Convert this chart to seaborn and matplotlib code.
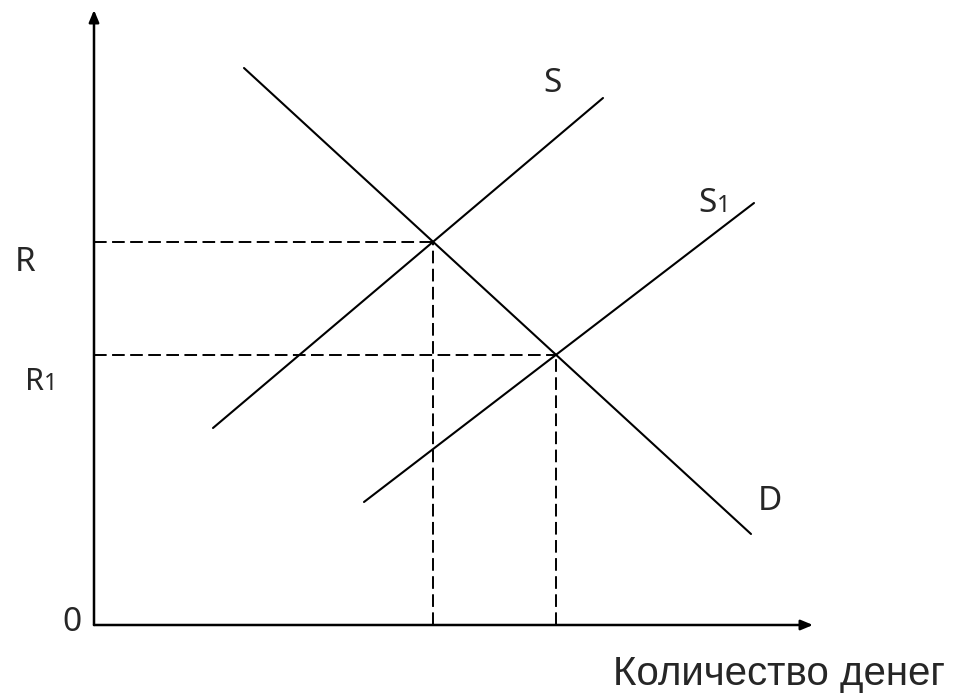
import numpy as np
import pandas as pd
import matplotlib
matplotlib.use("Agg")
from matplotlib import pyplot as plt
import seaborn as sns

sns.set_theme(style="white")
plt.rcParams["font.family"] = ["Noto Sans", "DejaVu Sans"]

# curve end points (x, y) in chart units, origin at the axes corner
d_x = [15.0, 65.7]
d_y = [55.7, 9.1]
s_x = [11.9, 50.9]
s_y = [19.7, 52.7]
s1_x = [27.0, 66.0]
s1_y = [12.3, 42.2]
axis_x_max = 71.9
axis_y_max = 61.5

curves = pd.concat([
    pd.DataFrame({"q": d_x, "r": d_y, "curve": "D"}),
    pd.DataFrame({"q": s_x, "r": s_y, "curve": "S"}),
    pd.DataFrame({"q": s1_x, "r": s1_y, "curve": "S1"}),
])


def line_coef(xs, ys):
    k = (ys[1] - ys[0]) / (xs[1] - xs[0])
    return k, ys[0] - k * xs[0]


def intersect(a, b):
    k1, b1 = a
    k2, b2 = b
    x = (b2 - b1) / (k1 - k2)
    return x, k1 * x + b1


dc = line_coef(d_x, d_y)
e = intersect(dc, line_coef(s_x, s_y))
e1 = intersect(dc, line_coef(s1_x, s1_y))

fig = plt.figure(figsize=(9.63, 6.96), dpi=100)
ax = fig.add_axes([0, 0, 1, 1])
ax.set_xlim(-9.4, 86.9)
ax.set_ylim(-7.1, 62.5)
ax.set_axis_off()

sns.lineplot(data=curves, x="q", y="r", units="curve", estimator=None,
             color="black", lw=1.5, ax=ax, legend=False)

dash = dict(color="black", lw=1.4, dashes=(6.5, 2.8))
for x, y in [e, e1]:
    ax.plot([0, x], [y, y], **dash)
    ax.plot([x, x], [0, y], **dash)

arrow = dict(arrowstyle="-|>,head_length=0.6,head_width=0.25", color="black",
             lw=1.8, shrinkA=0, shrinkB=0)
ax.annotate("", xy=(axis_x_max, 0), xytext=(0, 0), arrowprops=arrow)
ax.annotate("", xy=(0, axis_y_max), xytext=(0, 0), arrowprops=arrow)

fs = 24
ax.text(44.9, 53.3, "S", fontsize=fs, va="baseline")
ax.text(60.4, 41.3, "S", fontsize=fs, va="baseline")
ax.text(62.3, 41.3, "1", fontsize=17, va="baseline")
ax.text(-7.9, 35.4, "R", fontsize=fs, va="baseline")
ax.text(-6.9, 23.5, "R", fontsize=22, va="baseline")
ax.text(-5.0, 23.5, "1", fontsize=17, va="baseline")
ax.text(66.4, 11.5, "D", fontsize=fs, va="baseline")
ax.text(-3.2, -0.6, "0", fontsize=fs, va="baseline")
ax.text(85.1, -6.0, "Количество денег", fontsize=29, va="baseline", ha="right",
        family=["Liberation Sans", "DejaVu Sans"])

fig.savefig("out.png", dpi=100)
